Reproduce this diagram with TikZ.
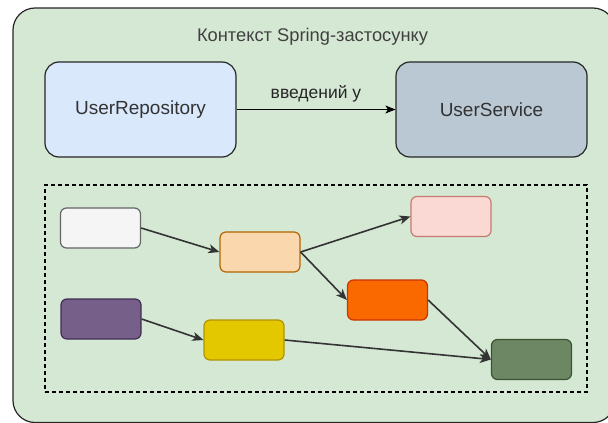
\documentclass[tikz,border=0pt]{standalone}
\usepackage{fontspec}
\setmainfont{Liberation Sans}
\usetikzlibrary{arrows.meta, positioning}
\definecolor{ctxgreen}{HTML}{D5E8D4}
\definecolor{repoblue}{HTML}{DAE8FC}
\definecolor{svcgrey}{HTML}{BAC8D3}
\definecolor{beanwhite}{HTML}{F5F5F5}
\definecolor{beanpeach}{HTML}{FAD7AC}
\definecolor{beanpink}{HTML}{FAD9D5}
\definecolor{beanorange}{HTML}{FA6800}
\definecolor{beanpurple}{HTML}{76608A}
\definecolor{beanyellow}{HTML}{E3C800}
\definecolor{beangreen}{HTML}{6D8764}
\definecolor{edgewhite}{HTML}{666666}
\definecolor{edgepeach}{HTML}{B46504}
\definecolor{edgepink}{HTML}{C77A70}
\definecolor{edgeorange}{HTML}{C73500}
\definecolor{edgepurple}{HTML}{432D57}
\definecolor{edgeyellow}{HTML}{B09500}
\definecolor{edgegreen}{HTML}{3A5431}

\begin{document}
\begin{tikzpicture}[
    x=1pt, y=-1pt,
    context/.style={
        rectangle, rounded corners=22pt, minimum width=602pt, minimum height=414.5pt,
        draw=black!85, fill=ctxgreen, line width=1.2pt
    },
    topbean/.style={
        rectangle, rounded corners=14pt, minimum width=191pt, minimum height=95pt,
        draw=black!85, fill=#1, line width=1.2pt,
        font=\fontsize{19}{22}\selectfont, text=black!80
    },
    bean/.style={
        rectangle, rounded corners=6pt, minimum width=80pt, minimum height=40pt,
        draw=edge#1, fill=bean#1, line width=1.2pt
    },
    container/.style={
        rectangle, minimum width=542pt, minimum height=207pt,
        draw=black, dash pattern=on 4pt off 3pt, line width=1.2pt
    },
    inject/.style={-{Stealth[length=10pt, width=8pt, inset=2.5pt]}, line width=1.2pt, color=black},
    wire/.style={-{Stealth[length=11pt, width=9pt, inset=3pt]}, line width=1.6pt, color=black!80}
]

\useasboundingbox (0,0) rectangle (608,423);
\clip (0,0) rectangle (608,423);

% Context
\node[context] (ctx) at (314,215.25) {};
\node[font=\fontsize{18.3}{21}\selectfont, text=black!75] (title) at (312.5,37) {Контекст Spring-застосунку};

% Top beans
\node[topbean=repoblue] (repo) at (140.5,109.5) {UserRepository};
\node[topbean=svcgrey] (svc) at (491.5,109.5) {UserService};
\draw[inject] (repo) -- node[above=3pt, font=\fontsize{17.5}{20}\selectfont, text=black!85] (injlabel) {введений у} (svc);

% Bean container
\node[container] (pool) at (316,288.5) {};

% Beans
\node[bean=white] (b1) at (100.5,228) {};
\node[bean=peach] (b2) at (260,252) {};
\node[bean=pink] (b3) at (451,216.5) {};
\node[bean=orange] (b4) at (387.5,300) {};
\node[bean=purple] (b5) at (101,319) {};
\node[bean=yellow] (b6) at (244,340) {};
\node[bean=green] (b7) at (531.5,359.5) {};

% Wiring
\draw[wire] (b1.east) -- (b2.west);
\draw[wire] (b2.east) -- (b3.west);
\draw[wire] (b2.east) -- (b4.west);
\draw[wire] (b4.east) -- (b7.west);
\draw[wire] (b5.east) -- (b6.west);
\draw[wire] (b6.east) -- (b7.west);

\end{tikzpicture}
\end{document}
